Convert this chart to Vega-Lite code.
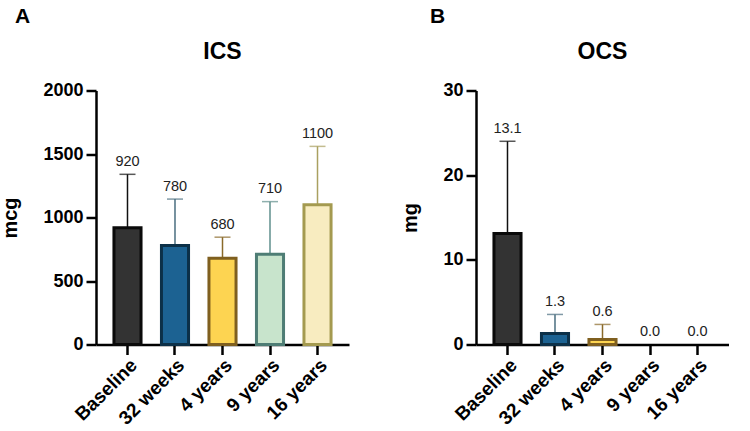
{
  "$schema": "https://vega.github.io/schema/vega-lite/v6.json",
  "padding": {"left": 0, "top": 5.5, "right": 0, "bottom": 0},
  "background": "white",
  "config": {
    "font": "Liberation Sans",
    "view": {"stroke": null},
    "axis": {"domainColor": "black", "domainWidth": 2.5, "tickColor": "black", "tickWidth": 2.5, "tickSize": 10, "labelColor": "black", "labelFontWeight": "bold", "labelFontSize": 18, "titleColor": "black", "titleFontWeight": "bold", "titleFontSize": 20, "grid": false, "zindex": 1, "labelPadding": 3},
    "concat": {"spacing": 51}
  },
  "datasets": {
    "ics": [
      {"cat": "Baseline", "mean": 920, "upper": 1340, "label": "920"},
      {"cat": "32 weeks", "mean": 780, "upper": 1145, "label": "780"},
      {"cat": "4 years", "mean": 680, "upper": 845, "label": "680"},
      {"cat": "9 years", "mean": 710, "upper": 1125, "label": "710"},
      {"cat": "16 years", "mean": 1100, "upper": 1560, "label": "1100"}
    ],
    "ocs": [
      {"cat": "Baseline", "mean": 13.1, "upper": 24.0, "label": "13.1"},
      {"cat": "32 weeks", "mean": 1.3, "upper": 3.55, "label": "1.3"},
      {"cat": "4 years", "mean": 0.6, "upper": 2.37, "label": "0.6"},
      {"cat": "9 years", "mean": 0, "upper": 0, "label": "0.0"},
      {"cat": "16 years", "mean": 0, "upper": 0, "label": "0.0"}
    ]
  },
  "hconcat": [
    {
      "title": {"text": "A", "anchor": "start", "frame": "bounds", "fontSize": 21, "fontWeight": "bold", "dx": 14, "offset": 14.5, "color": "black"},
      "vconcat": [
        {
          "data": {"name": "ics"},
          "width": 253,
          "height": 254,
          "title": {"text": "ICS", "fontSize": 23, "fontWeight": "bold", "color": "black", "offset": 17.5},
          "encoding": {
            "x": {"field": "cat", "type": "nominal", "sort": null, "scale": {"paddingInner": 0.43, "paddingOuter": 0.378}, "axis": {"title": null, "labelAngle": -45, "labelFontSize": 19, "labelPadding": 1}}
          },
          "layer": [
            {
              "mark": {"type": "rule", "strokeWidth": 1.5},
              "encoding": {
                "y": {"field": "mean", "type": "quantitative", "scale": {"domain": [0, 2000], "nice": false}, "axis": {"title": "mcg", "values": [0, 500, 1000, 1500, 2000], "format": "d", "titlePadding": 22}},
                "y2": {"field": "upper"},
                "color": {"field": "cat", "type": "nominal", "sort": null, "scale": {"domain": ["Baseline", "32 weeks", "4 years", "9 years", "16 years"], "range": ["#111111", "#4a6e80", "#8a6a2a", "#5f8f8c", "#aaa060"]}, "legend": null}
              }
            },
            {
              "mark": {"type": "bar", "strokeWidth": 3},
              "encoding": {
                "y": {"field": "mean", "type": "quantitative", "title": "mcg"},
                "fill": {"field": "cat", "type": "nominal", "sort": null, "scale": {"domain": ["Baseline", "32 weeks", "4 years", "9 years", "16 years"], "range": ["#333333", "#1c6292", "#fdd451", "#c8e4cc", "#f8ecc0"]}, "legend": null},
                "stroke": {"field": "cat", "type": "nominal", "sort": null, "scale": {"domain": ["Baseline", "32 weeks", "4 years", "9 years", "16 years"], "range": ["#0a0a0a", "#0c3048", "#7f5f1f", "#4e7d75", "#a49a50"]}, "legend": null}
              }
            },
            {
              "mark": {"type": "tick", "thickness": 1.5, "size": 16, "orient": "horizontal"},
              "encoding": {
                "y": {"field": "upper", "type": "quantitative", "title": "mcg"},
                "color": {"field": "cat", "type": "nominal", "sort": null, "legend": null}
              }
            },
            {
              "mark": {"type": "text", "dy": -12.5, "fontSize": 14.5, "color": "#222222"},
              "encoding": {
                "y": {"field": "upper", "type": "quantitative", "title": "mcg"},
                "text": {"field": "label"}
              }
            }
          ]
        }
      ]
    },
    {
      "title": {"text": "B", "anchor": "start", "frame": "bounds", "fontSize": 21, "fontWeight": "bold", "dx": 29, "offset": 14.5, "color": "black"},
      "vconcat": [
        {
          "data": {"name": "ocs"},
          "width": 253,
          "height": 254,
          "title": {"text": "OCS", "fontSize": 23, "fontWeight": "bold", "color": "black", "offset": 17.5},
          "encoding": {
            "x": {"field": "cat", "type": "nominal", "sort": null, "scale": {"paddingInner": 0.43, "paddingOuter": 0.378}, "axis": {"title": null, "labelAngle": -45, "labelFontSize": 19, "labelPadding": 1}}
          },
          "layer": [
            {
              "transform": [{"filter": "datum.mean > 0"}],
              "mark": {"type": "rule", "strokeWidth": 1.5},
              "encoding": {
                "y": {"field": "mean", "type": "quantitative", "scale": {"domain": [0, 30], "nice": false}, "axis": {"title": "mg", "values": [0, 10, 20, 30], "format": "d", "titlePadding": 22}},
                "y2": {"field": "upper"},
                "color": {"field": "cat", "type": "nominal", "sort": null, "scale": {"domain": ["Baseline", "32 weeks", "4 years", "9 years", "16 years"], "range": ["#111111", "#4a6e80", "#8a6a2a", "#5f8f8c", "#aaa060"]}, "legend": null}
              }
            },
            {
              "transform": [{"filter": "datum.mean > 0"}],
              "mark": {"type": "bar", "strokeWidth": 3},
              "encoding": {
                "y": {"field": "mean", "type": "quantitative", "title": "mg"},
                "fill": {"field": "cat", "type": "nominal", "sort": null, "scale": {"domain": ["Baseline", "32 weeks", "4 years", "9 years", "16 years"], "range": ["#333333", "#1c6292", "#fdd451", "#c8e4cc", "#f8ecc0"]}, "legend": null},
                "stroke": {"field": "cat", "type": "nominal", "sort": null, "scale": {"domain": ["Baseline", "32 weeks", "4 years", "9 years", "16 years"], "range": ["#0a0a0a", "#0c3048", "#7f5f1f", "#4e7d75", "#a49a50"]}, "legend": null}
              }
            },
            {
              "transform": [{"filter": "datum.mean > 0"}],
              "mark": {"type": "tick", "thickness": 1.5, "size": 16, "orient": "horizontal"},
              "encoding": {
                "y": {"field": "upper", "type": "quantitative", "title": "mg"},
                "color": {"field": "cat", "type": "nominal", "sort": null, "legend": null}
              }
            },
            {
              "mark": {"type": "text", "dy": -12.5, "fontSize": 14.5, "color": "#222222"},
              "encoding": {
                "y": {"field": "upper", "type": "quantitative", "title": "mg"},
                "text": {"field": "label"}
              }
            }
          ]
        }
      ]
    }
  ]
}
